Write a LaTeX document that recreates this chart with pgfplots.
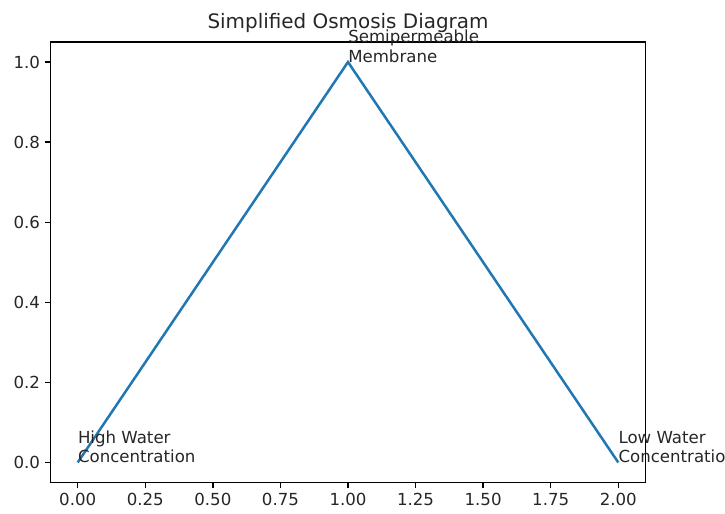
\documentclass[border=0pt]{standalone}
\usepackage{pgfplots}
\pgfplotsset{compat=1.18}
\usepackage{fontspec}
\setmainfont{DejaVu Sans}
\definecolor{mplblue}{HTML}{1F77B4}
\begin{document}
\begin{tikzpicture}
\begin{axis}[
    name=ax,
    scale only axis,
    width=5.946in, height=4.405in,
    xmin=-0.1, xmax=2.1,
    ymin=-0.05, ymax=1.05,
    xtick={0,0.25,...,2.0},
    ytick={0,0.2,...,1.0},
    xtick pos=bottom, ytick pos=left,
    tick align=outside,
    major tick length=4.2pt,
    every tick/.style={black, line width=0.95pt},
    axis line style={line width=0.95pt},
    /pgf/number format/assume math mode=true,
    xticklabel style={/pgf/number format/.cd, fixed, fixed zerofill, precision=2},
    yticklabel style={/pgf/number format/.cd, fixed, fixed zerofill, precision=1},
    tick label style={font=\fontsize{12}{14}\selectfont, text=black!85},
    clip=false,
    ]
\addplot[mplblue, line width=1.8pt, no marks] coordinates {(0,0) (1,1) (2,0)};
\node[anchor=base west, inner sep=0pt, font=\fontsize{12}{14}\selectfont, text=black!85]
  at (axis cs:0,0) {\vbox{\hbox{High Water}\hbox{Concentration}}};
\node[anchor=base west, inner sep=0pt, font=\fontsize{12}{14}\selectfont, text=black!85]
  at (axis cs:1,1) {\vbox{\hbox{Semipermeable}\hbox{Membrane}}};
\node[anchor=base west, inner sep=0pt, font=\fontsize{12}{14}\selectfont, text=black!85]
  at (axis cs:2,0) {\vbox{\hbox{Low Water}\hbox{Concentration}}};
\node[anchor=south, inner sep=0pt, yshift=6.5pt, font=\fontsize{14.4}{16}\selectfont, text=black!85]
  at (rel axis cs:0.5,1) {Simplified Osmosis Diagram};
\end{axis}
\pgfresetboundingbox
\path[use as bounding box] ([shift={(-0.507in,-0.311in)}]ax.south west) rectangle ([shift={(0.797in,0.42in)}]ax.north east);
\end{tikzpicture}
\end{document}
